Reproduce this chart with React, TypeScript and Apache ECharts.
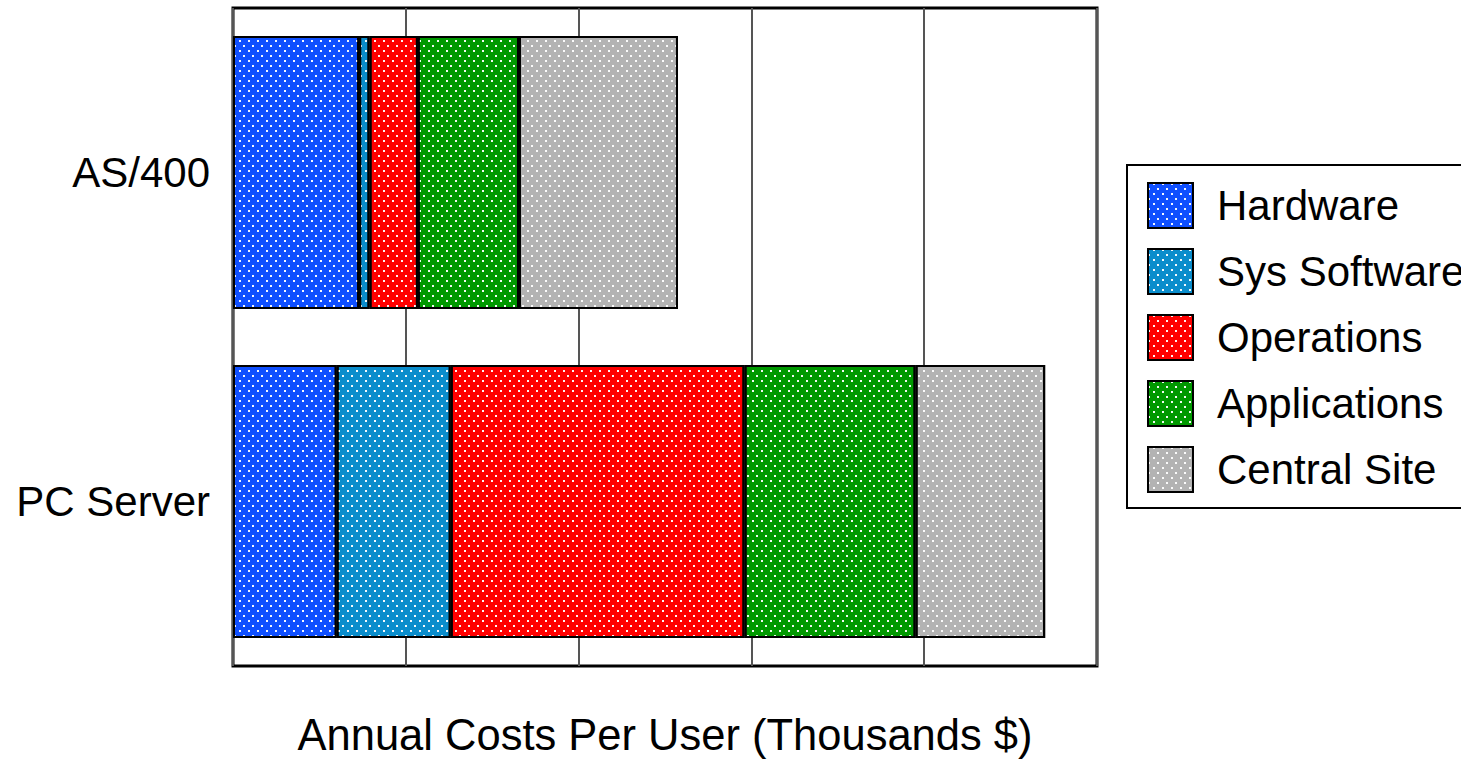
import React, { useEffect, useRef } from "react";
import * as echarts from "echarts";

const categories = ["AS/400", "PC Server"];
const seriesNames = ["Hardware", "Sys Software", "Operations", "Applications", "Central Site"];
const hardware = [0.73, 0.6];
const sysSoftware = [0.06, 0.66];
const operations = [0.28, 1.7];
const applications = [0.585, 0.99];
const centralSite = [0.92, 0.75];
const colors = ["#0f4fff", "#0a8dcc", "#ff0000", "#009900", "#b3b3b3"];

const FONT = "Liberation Sans";

export default function App() {
  const ref = useRef<HTMLDivElement>(null);
  useEffect(() => {
    if (!ref.current) return;
    const chart = echarts.init(ref.current, null, { renderer: "svg" });
    const values = [hardware, sysSoftware, operations, applications, centralSite];
    const decal = {
      symbol: "rect",
      symbolSize: 1,
      color: "rgba(255,255,255,0.95)",
      dashArrayX: [[2, 7], [0, 5, 2, 2]],
      dashArrayY: [2, 3],
      rotation: 0,
    };
    chart.setOption({
      animation: false,
      aria: { enabled: true, decal: { show: true } },
      textStyle: { fontFamily: FONT },
      grid: {
        left: 233,
        right: 364,
        top: 8,
        bottom: 96,
        show: true,
        borderColor: "#000",
        borderWidth: 3,
        backgroundColor: "transparent",
      },
      legend: {
        orient: "vertical",
        left: 1127,
        top: 165,
        padding: [17, 20, 15, 20],
        itemWidth: 45,
        itemHeight: 45,
        itemGap: 19,
        borderColor: "#000",
        borderWidth: 2,
        icon: "rect",
        data: seriesNames,
        textStyle: { fontFamily: FONT, fontSize: 42, color: "#000", padding: [0, 0, 0, 19] },
      },
      xAxis: {
        type: "value",
        min: 0,
        max: 5,
        interval: 1,
        axisLabel: { show: false },
        axisTick: { show: false },
        axisLine: { show: false },
        splitLine: { show: true, lineStyle: { color: "#555", width: 2 } },
        name: "Annual Costs Per User (Thousands $)",
        nameLocation: "middle",
        nameGap: 47,
        nameTextStyle: { fontFamily: FONT, fontSize: 43.5, color: "#000" },
      },
      yAxis: {
        type: "category",
        data: categories,
        inverse: true,
        axisTick: { show: false },
        axisLine: { show: false },
        axisLabel: { fontFamily: FONT, fontSize: 42, color: "#000", margin: 23 },
      },
      series: seriesNames.map((name, i) => ({
        name,
        type: "bar",
        stack: "total",
        barCategoryGap: "17%",
        data: values[i],
        itemStyle: { color: colors[i], borderColor: "#000", borderWidth: 2, decal },
      })),
    });
    return () => chart.dispose();
  }, []);
  return (
    <div
      ref={ref}
      style={{ position: "fixed", left: 0, top: 0, width: 1461, height: 762, background: "#fff" }}
    />
  );
}
